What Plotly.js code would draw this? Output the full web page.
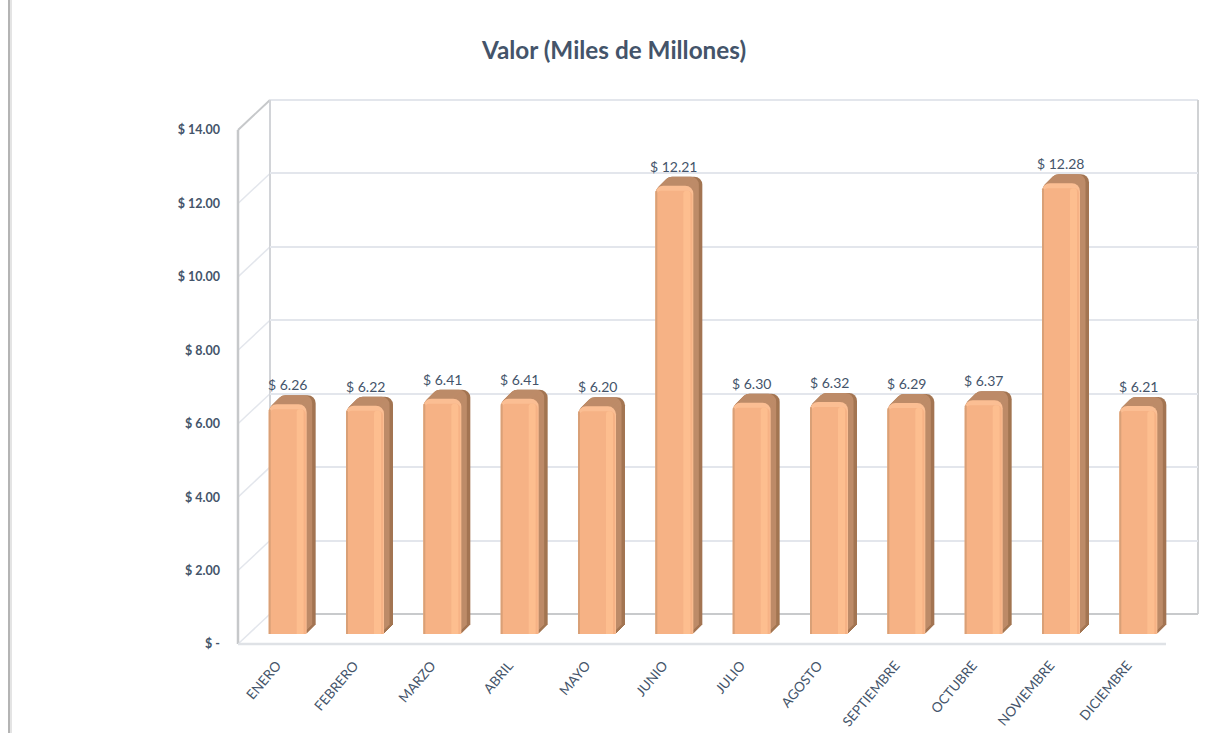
<!DOCTYPE html>
<html><head><meta charset="utf-8">
<script src="https://cdn.plot.ly/plotly-3.0.1.min.js"></script>
<style>html,body{margin:0;padding:0;background:#fff}#c{width:1208px;height:733px}</style>
</head><body><div id="c"></div>
<script>
const months = ["ENERO","FEBRERO","MARZO","ABRIL","MAYO","JUNIO","JULIO","AGOSTO","SEPTIEMBRE","OCTUBRE","NOVIEMBRE","DICIEMBRE"];
const values = [6.26,6.22,6.41,6.41,6.20,12.21,6.30,6.32,6.29,6.37,12.28,6.21];
const yTicks = [0,2,4,6,8,10,12,14];
const yTickText = ["$ -","$ 2.00","$ 4.00","$ 6.00","$ 8.00","$ 10.00","$ 12.00","$ 14.00"];
const W=1208,H=733;
const L=238,R=1166,B=644,T=130;   // front plane of the 3D box
const WX=32,WY=30;                // depth of the box
const BX=11,BY=10;                // front plane of the bars
const DEPTH=9;
const ink="#44546a", gridC="#e3e6ec", wallC="#c6c8ca";
const unit=(B-T)/14, catPx=(R-L)/12;
const barPx=38;
const layout={width:W,height:H,autosize:false,showlegend:false,barmode:"overlay",
  margin:{l:0,r:0,t:0,b:0},paper_bgcolor:"#fff",plot_bgcolor:"rgba(0,0,0,0)",
  font:{family:"Lato, sans-serif",color:ink},
  title:{text:"<b>Valor (Miles de Millones)</b>",x:614/W,xanchor:"center",y:1-50/H,yanchor:"middle",
    font:{family:"Lato, sans-serif",size:24.3,color:ink}},
  shapes:[],annotations:[]};
const traces=[];
let n=0;
function axes(dx,dy,opts,yopts){
  n++; const s=n===1?"":n;
  layout["xaxis"+s]=Object.assign({domain:[(L+dx)/W,(R+dx)/W],range:[-0.5,11.5],type:"linear",visible:false,anchor:"y"+s,fixedrange:true},opts||{});
  layout["yaxis"+s]=Object.assign({domain:[1-(B-dy)/H,1-(T-dy)/H],range:[0,14],visible:false,anchor:"x"+s,fixedrange:true},yopts||{});
  return {xaxis:"x"+s,yaxis:"y"+s};
}
const idx=months.map((_,i)=>i);
function bar(ax,color,wpx,offPx,radius){
  traces.push(Object.assign({type:"bar",x:idx,y:values,width:wpx/catPx,offset:(offPx-wpx/2)/catPx,
    marker:{color:color,line:{width:0},cornerradius:radius},hoverinfo:"skip"},ax));
}
// back wall with gridlines
const wall=axes(WX,WY,{},{visible:true,showgrid:true,gridcolor:gridC,gridwidth:2,zeroline:false,showline:false,
  tickvals:yTicks,showticklabels:false,ticks:""});
traces.push(Object.assign({type:"bar",x:idx,y:values.map(()=>null),hoverinfo:"skip"},wall));
// axis labels on the front plane
const front=axes(0,0,{visible:true,showgrid:false,zeroline:false,showline:false,tickmode:"array",tickvals:idx,ticktext:months,
    tickangle:-50,ticks:"",ticklabelstandoff:10,tickfont:{family:"Lato, sans-serif",size:13.5,color:ink}},
  {visible:true,showgrid:false,zeroline:false,showline:false,tickmode:"array",tickvals:yTicks,ticktext:yTickText,ticks:"",
    ticklabelstandoff:17,tickfont:{family:"Lato, sans-serif",size:12.5,weight:700,color:ink}});
traces.push(Object.assign({type:"bar",x:idx,y:values.map(()=>null),hoverinfo:"skip"},front));
// side face, then top face, then the bevelled front
for(let k=DEPTH;k>=1;k--) bar(axes(BX+k,BY+k),"#a37552",barPx,0,8);
for(let k=DEPTH;k>=1;k--) bar(axes(BX+k-2,BY+k),"#bd8b68",barPx-3,0,8);
const f=axes(BX,BY);
bar(f,"#fbbe93",barPx,0,8);
const dp=5/unit;
const inner=axes(BX,BY,{},{range:[dp,14+dp]});
bar(inner,"#f6b285",barPx-2,0,5);
bar(inner,"#fdbe8f",7,12.5,3);
bar(inner,"#d9a077",2,-18,1);
// data labels
values.forEach((v,i)=>layout.annotations.push({x:i,y:v,xref:f.xaxis,yref:f.yaxis,text:"$ "+v.toFixed(2),showarrow:false,
  yanchor:"bottom",yshift:9,font:{family:"Lato, sans-serif",size:14,color:ink}}));
// box edges
function seg(x0,y0,x1,y1,c,w){layout.shapes.push({type:"line",xref:"paper",yref:"paper",x0:x0/W,x1:x1/W,y0:1-y0/H,y1:1-y1/H,line:{color:c,width:w},layer:"below"});}
yTicks.forEach(t=>{const y=B-t*unit; seg(L,y,L+WX,y-WY,t===14?wallC:gridC,t===14?2:1.5);});
seg(L+WX,T-WY,R+WX,T-WY,gridC,2);
seg(L,T,L,B,wallC,2.5);
seg(L+WX,T-WY,L+WX,B-WY,"#d2d4d8",2);
seg(R+WX,T-WY,R+WX,B-WY,"#d0d2d4",2);
seg(L+WX,B-WY,R+WX,B-WY,"#c8cacc",2);
seg(L,B,R,B,"#dfe2e6",2.5);
seg(9,0,9,H,"#b4b4b4",2);
seg(11,0,11,H,"#e4e4e4",2);
Plotly.newPlot("c",traces,layout,{displayModeBar:false,staticPlot:true});
</script></body></html>
